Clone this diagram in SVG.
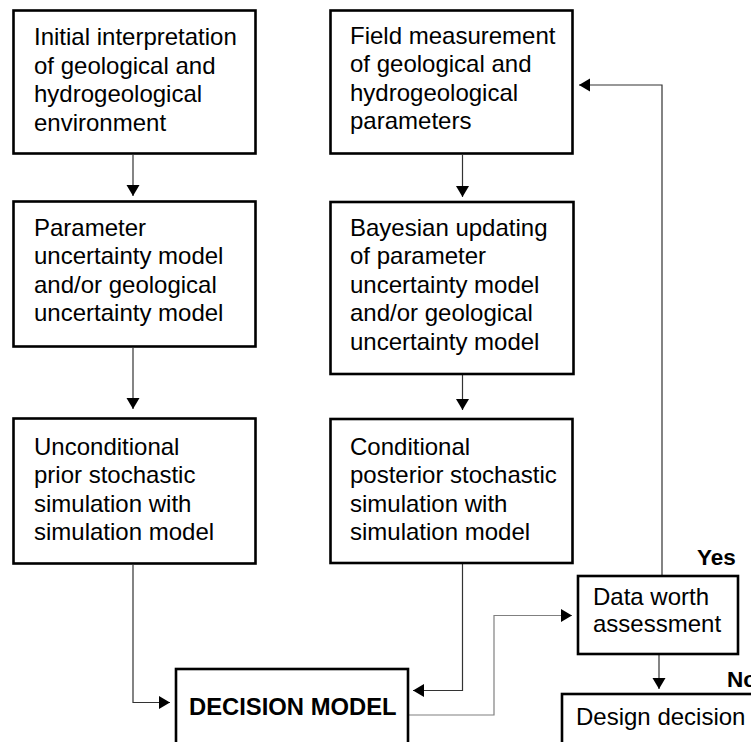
<svg xmlns="http://www.w3.org/2000/svg" width="751" height="742" viewBox="0 0 751 742">
  <defs>
    <marker id="arrow" markerUnits="userSpaceOnUse" markerWidth="12" markerHeight="14" refX="11" refY="6.5" orient="auto">
      <path d="M0,0 L11,6.5 L0,13 Z" fill="#000"/>
    </marker>
    <style>
      .box { fill: #fff; stroke: #000; stroke-width: 2.6; }
      .label { font-family: "Liberation Sans", Arial, sans-serif; font-size: 24px; fill: #000; }
      .title { font-family: "Liberation Sans", Arial, sans-serif; font-weight: bold; font-size: 23.8px; fill: #000; }
      .answer { font-family: "Liberation Sans", Arial, sans-serif; font-weight: bold; font-size: 22.5px; fill: #000; }
      .conn { fill: none; stroke: #333; stroke-width: 1.2; marker-end: url(#arrow); }
      .conn.light { stroke: #808080; }
    </style>
  </defs>
  <rect width="751" height="742" fill="#fff"/>

  <!-- flow connectors -->
  <g id="connectors">
    <path class="conn" d="M133,155 V196"/>
    <path class="conn" d="M133,348 V409"/>
    <path class="conn" d="M462.5,155 V197"/>
    <path class="conn" d="M462.5,375 V410"/>
    <path class="conn" d="M133,565 V702.5 H170"/>
    <path class="conn" d="M462.5,564 V690.5 H413"/>
    <path class="conn light" d="M409,715 H494 V615.5 H572"/>
    <path class="conn" d="M662,575 V85 H579"/>
    <path class="conn" d="M659,655 V689"/>
  </g>

  <g id="initial-interpretation">
    <rect class="box" x="13.5" y="10.5" width="242" height="143"/>
    <text class="label" x="34" y="45">Initial interpretation</text>
    <text class="label" x="34" y="73.5">of geological and</text>
    <text class="label" x="34" y="102">hydrogeological</text>
    <text class="label" x="34" y="130.5">environment</text>
  </g>

  <g id="field-measurement">
    <rect class="box" x="330.5" y="10.5" width="242" height="143"/>
    <text class="label" x="350" y="43.5">Field measurement</text>
    <text class="label" x="350" y="72">of geological and</text>
    <text class="label" x="350" y="100.5">hydrogeological</text>
    <text class="label" x="350" y="129">parameters</text>
  </g>

  <g id="parameter-uncertainty">
    <rect class="box" x="13.5" y="201.5" width="242" height="145"/>
    <text class="label" x="34" y="235.5">Parameter</text>
    <text class="label" x="34" y="264">uncertainty model</text>
    <text class="label" x="34" y="292.5">and/or geological</text>
    <text class="label" x="34" y="321">uncertainty model</text>
  </g>

  <g id="bayesian-updating">
    <rect class="box" x="330.5" y="202" width="243" height="172"/>
    <text class="label" x="350" y="235.5">Bayesian updating</text>
    <text class="label" x="350" y="264">of parameter</text>
    <text class="label" x="350" y="292.5">uncertainty model</text>
    <text class="label" x="350" y="321">and/or geological</text>
    <text class="label" x="350" y="349.5">uncertainty model</text>
  </g>

  <g id="unconditional-simulation">
    <rect class="box" x="13.5" y="418.5" width="242" height="145"/>
    <text class="label" x="34" y="454.5">Unconditional</text>
    <text class="label" x="34" y="483">prior stochastic</text>
    <text class="label" x="34" y="511.5">simulation with</text>
    <text class="label" x="34" y="540">simulation model</text>
  </g>

  <g id="conditional-simulation">
    <rect class="box" x="330.5" y="419" width="242" height="144"/>
    <text class="label" x="350" y="454.5">Conditional</text>
    <text class="label" x="350" y="483">posterior stochastic</text>
    <text class="label" x="350" y="511.5">simulation with</text>
    <text class="label" x="350" y="540">simulation model</text>
  </g>

  <g id="data-worth">
    <rect class="box" x="578" y="576" width="160" height="78"/>
    <text class="label" x="593" y="605">Data worth</text>
    <text class="label" x="593" y="632">assessment</text>
    <text class="answer" x="697" y="565">Yes</text>
    <text class="answer" x="727" y="687">No</text>
  </g>

  <g id="decision-model">
    <rect class="box" x="176" y="669" width="232" height="100"/>
    <text class="title" x="189" y="715">DECISION MODEL</text>
  </g>

  <g id="design-decision">
    <rect class="box" x="562" y="694" width="200" height="100"/>
    <text class="label" x="576" y="725">Design decision</text>
  </g>
</svg>
